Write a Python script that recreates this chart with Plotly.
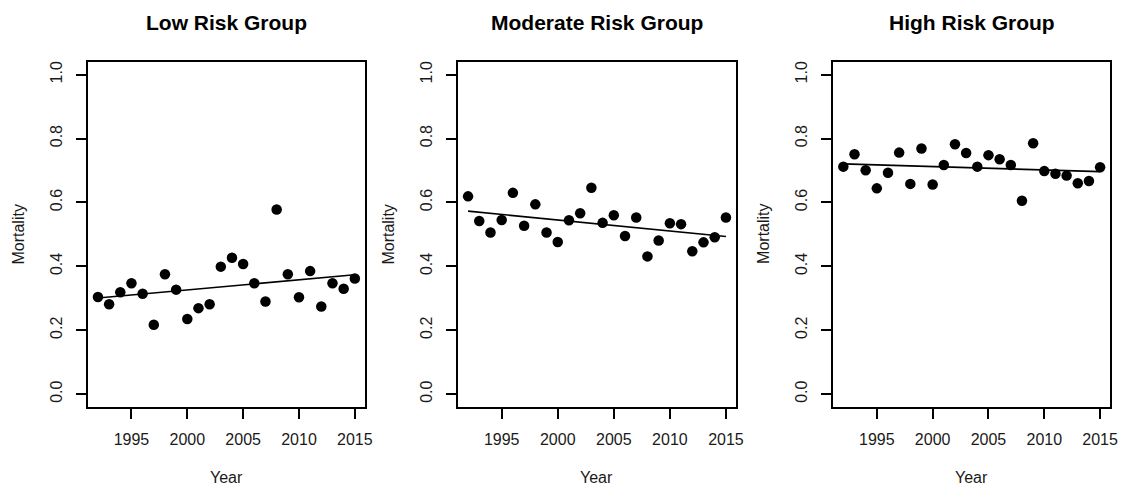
import numpy as np
import plotly.graph_objects as go

years = list(range(1992, 2016))
low_risk = [0.304, 0.281, 0.319, 0.347, 0.314, 0.217, 0.375, 0.327, 0.235, 0.269, 0.281, 0.399,
            0.427, 0.407, 0.347, 0.290, 0.578, 0.375, 0.303, 0.385, 0.274, 0.347, 0.330, 0.362]
moderate_risk = [0.619, 0.542, 0.506, 0.545, 0.630, 0.527, 0.594, 0.506, 0.476, 0.544, 0.566, 0.646,
                 0.536, 0.560, 0.495, 0.553, 0.431, 0.481, 0.535, 0.532, 0.447, 0.475, 0.491, 0.553]
high_risk = [0.712, 0.751, 0.701, 0.644, 0.693, 0.756, 0.658, 0.769, 0.656, 0.717, 0.782, 0.755,
             0.712, 0.748, 0.735, 0.717, 0.605, 0.785, 0.698, 0.690, 0.684, 0.660, 0.667, 0.710]
titles = ["Low Risk Group", "Moderate Risk Group", "High Risk Group"]
x_ticks = [1995, 2000, 2005, 2010, 2015]
y_ticks = [0.0, 0.2, 0.4, 0.6, 0.8, 1.0]
y_tick_labels = ["0.0", "0.2", "0.4", "0.6", "0.8", "1.0"]

W, H = 1130, 485
panels_px = [(88.3, 367.7), (461.0, 741.5), (839.0, 1118.3)]
top_px, bot_px = 61.0, 406.7
font = "Liberation Sans, Arial, Helvetica, sans-serif"
txt_color = "#1a1a1a"

fig = go.Figure()
series = [low_risk, moderate_risk, high_risk]
annotations = []
for i, (vals, title, (x0, x1)) in enumerate(zip(series, titles, panels_px)):
    n = "" if i == 0 else str(i + 1)
    xa, ya = "x" + n, "y" + n
    fig.add_trace(go.Scatter(x=years, y=vals, mode="markers", xaxis=xa, yaxis=ya,
                             marker=dict(color="black", size=10.5, line=dict(width=0)),
                             showlegend=False))
    slope, inter = np.polyfit(years, vals, 1)
    fx = [years[0], years[-1]]
    fy = [inter + slope * v for v in fx]
    fig.add_trace(go.Scatter(x=fx, y=fy, mode="lines", xaxis=xa, yaxis=ya,
                             line=dict(color="black", width=1.6), showlegend=False))
    axcommon = dict(showgrid=False, zeroline=False, showline=True, linecolor="black",
                    linewidth=1.5, mirror=True, ticks="outside", ticklen=10,
                    tickwidth=1.5, tickcolor="black",
                    tickfont=dict(family=font, size=16, color=txt_color))
    fig.layout["xaxis" + n] = dict(axcommon, domain=[x0 / W, x1 / W], anchor=ya,
                                   range=[1991.08, 2015.92], tickvals=x_ticks,
                                   ticklabelstandoff=7)
    fig.layout["yaxis" + n] = dict(axcommon, domain=[1 - bot_px / H, 1 - top_px / H], anchor=xa,
                                   range=[-0.04, 1.04], tickvals=y_ticks, ticktext=y_tick_labels,
                                   tickangle=-90, ticklabelstandoff=8)
    cx = (x0 + x1) / 2 / W
    annotations.append(dict(text="<b>" + title + "</b>", x=cx, y=1 - 22 / H, xref="paper",
                            yref="paper", showarrow=False, xanchor="center", yanchor="middle",
                            font=dict(family=font, size=21, color="black")))
    annotations.append(dict(text="Year", x=cx, y=1 - 477 / H, xref="paper", yref="paper",
                            showarrow=False, xanchor="center", yanchor="middle",
                            font=dict(family=font, size=16, color=txt_color)))
    annotations.append(dict(text="Mortality", x=(x0 - 70) / W, y=1 - ((top_px + bot_px) / 2) / H,
                            xref="paper", yref="paper", showarrow=False, textangle=-90,
                            xanchor="center", yanchor="middle",
                            font=dict(family=font, size=16, color=txt_color)))

fig.update_layout(width=W, height=H, margin=dict(l=0, r=0, t=0, b=0),
                  plot_bgcolor="white", paper_bgcolor="white", annotations=annotations)
fig.write_html("out.html", config={"displayModeBar": False},
               post_script="document.body.style.margin='0px';document.body.style.overflow='hidden';")
